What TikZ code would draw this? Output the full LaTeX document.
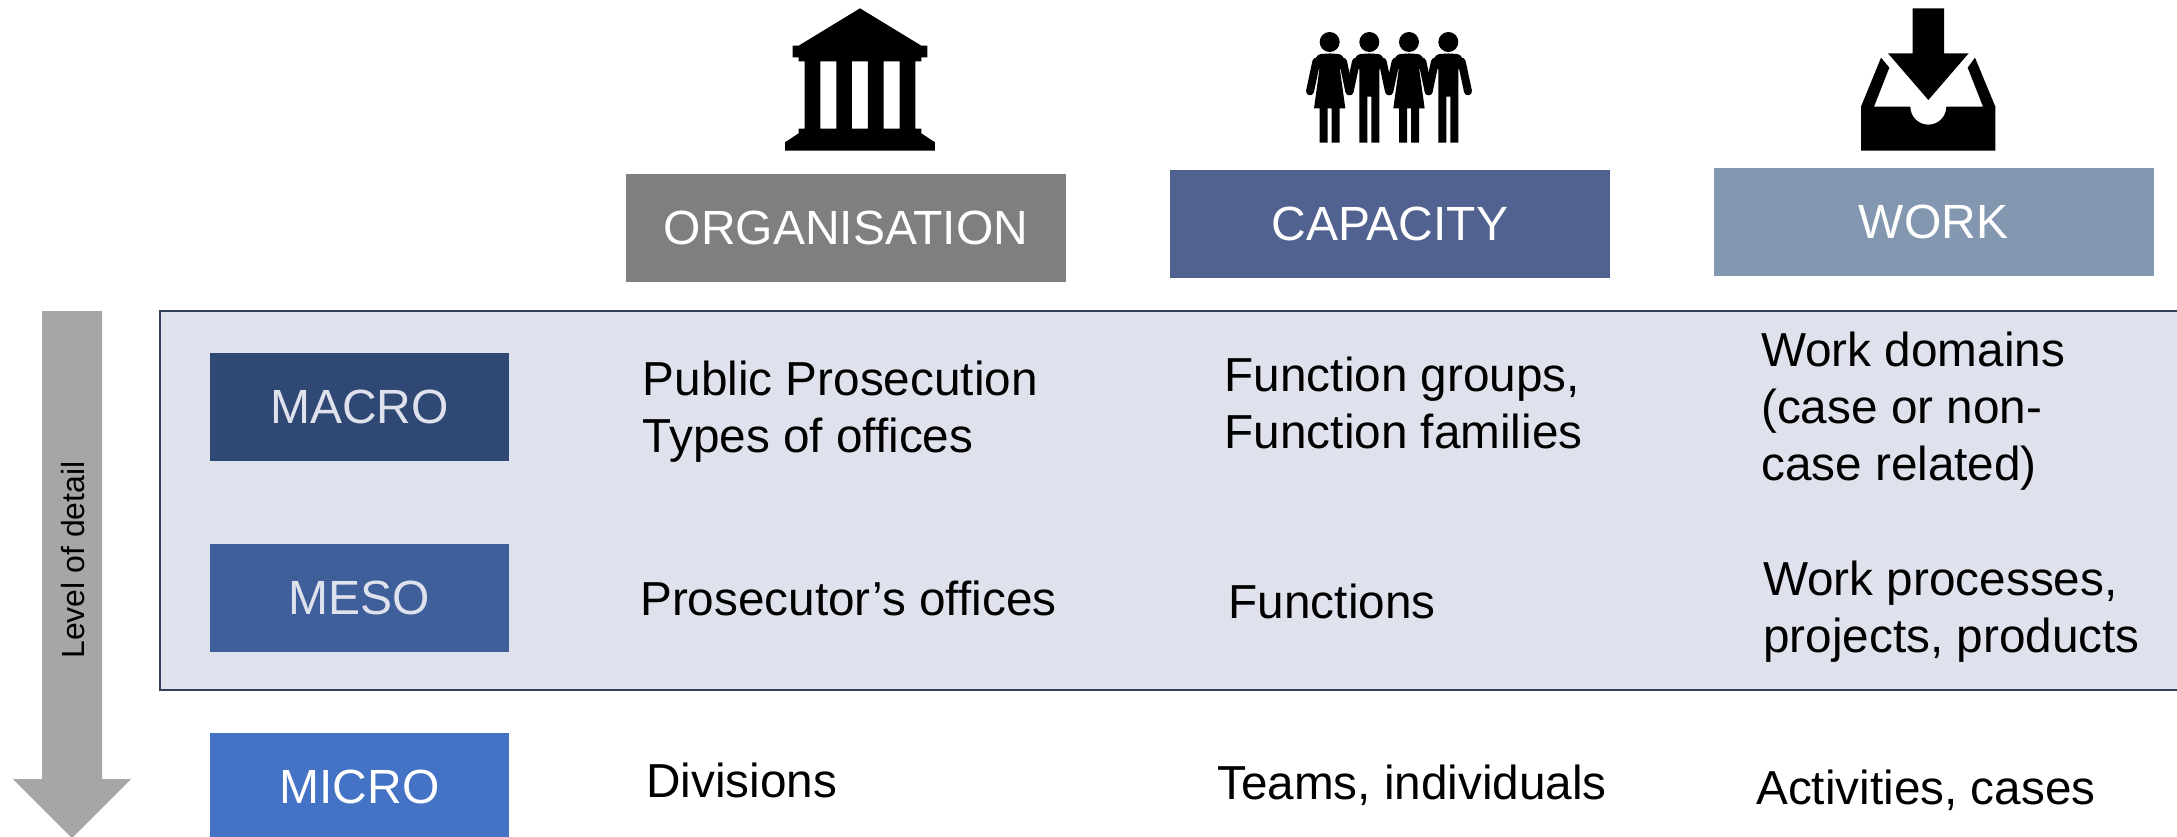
\documentclass[tikz,border=0pt]{standalone}
\usepackage{fontspec}
\setmainfont{Liberation Sans}
\definecolor{orgc}{HTML}{7F7F7F}
\definecolor{capc}{HTML}{526290}
\definecolor{workc}{HTML}{8497B0}
\definecolor{panelc}{HTML}{DFE2ED}
\definecolor{edgec}{HTML}{333F5C}
\definecolor{macroc}{HTML}{304874}
\definecolor{mesoc}{HTML}{3F5F9A}
\definecolor{microc}{HTML}{4472C4}
\definecolor{arrowc}{HTML}{A6A6A6}
\tikzset{
  headbox/.style={minimum width=440,minimum height=108,inner sep=0,text=white,font=\fontsize{48}{57}\selectfont},
  levelbox/.style={minimum width=299,minimum height=108,inner sep=0,font=\fontsize{48}{57}\selectfont},
  bodytext/.style={anchor=west,inner sep=0,align=left,font=\fontsize{47.7}{57}\selectfont}
}
\newcommand{\limbs}[1]{%
  \draw[line width=8pt,line cap=round] (#1-40,125) -- (#1-59,214);
  \draw[line width=8pt,line cap=round] (#1+40,125) -- (#1+59,214);
  \fill (#1,66) circle (30);
}
\newcommand{\shoulders}[1]{%
  \fill[rounded corners=3pt] (#1-52,135) -- (#1-36,103) -- (#1,100) -- (#1+36,103) -- (#1+52,135) -- (#1+29,150) -- (#1-29,150) -- cycle;
}
\newcommand{\womanfig}[1]{%
  \limbs{#1}
  \shoulders{#1}
  \fill (#1-29,135) -- (#1-47,265) -- (#1-30,265) -- (#1-30,368) -- (#1-6,368) -- (#1-6,265) -- (#1+6,265) -- (#1+6,368) -- (#1+30,368) -- (#1+30,265) -- (#1+47,265) -- (#1+29,135) -- cycle;
}
\newcommand{\manfig}[1]{%
  \limbs{#1}
  \shoulders{#1}
  \fill (#1-30,130) -- (#1-30,368) -- (#1-6,368) -- (#1-6,230) -- (#1+6,230) -- (#1+6,368) -- (#1+30,368) -- (#1+30,130) -- cycle;
}
\begin{document}
\begin{tikzpicture}[x=1pt,y=-1pt]
\fill[white] (0,0) rectangle (2177,837);
\useasboundingbox (0,0) rectangle (2177,837);

% panel
\fill[panelc] (160,311) rectangle (2177,690);
\draw[edgec,line width=2.5pt] (2177,311) -- (160,311) -- (160,690) -- (2177,690);

% arrow
\fill[arrowc] (42,311) -- (102,311) -- (102,779) -- (131,779) -- (72,838) -- (13,779) -- (42,779) -- cycle;
\node[rotate=90,inner sep=0,font=\fontsize{32}{36}\selectfont] (detail) at (73,560) {Level of detail};

% headers
\node[headbox,fill=orgc] (org) at (846,228) {ORGANISATION};
\node[headbox,fill=capc] (cap) at (1390,224) {CAPACITY};
\node[headbox,fill=workc] (work) at (1933.5,222) {WORK};

% levels
\node[levelbox,fill=macroc,text=panelc] (macro) at (359.5,407) {MACRO};
\node[levelbox,fill=mesoc,text=panelc] (meso) at (359.5,597.5) {MESO};
\node[levelbox,fill=microc,text=white] (micro) at (359.5,786.5) {MICRO};

% cell texts
\node[bodytext] (a1) at (642.5,411.5) {Public Prosecution\\Types of offices};
\node[bodytext] (b1) at (1224.5,403) {Function groups,\\Function families};
\node[bodytext] (c1) at (1761,411.5) {Work domains\\(case or non-\\case related)};
\node[bodytext] (a2) at (640,598.5) {Prosecutor’s offices};
\node[bodytext] (b2) at (1228.5,601.5) {Functions};
\node[bodytext] (c2) at (1763,612) {Work processes,\\projects, products};
\node[bodytext] (a3) at (646,780) {Divisions};
\node[bodytext] (b3) at (1217,785) {Teams, individuals};
\node[bodytext] (c3) at (1756,790) {Activities, cases};

% building icon
\begin{scope}[shift={(760,0)},x=0.3333pt,y=-0.3333pt]
\fill[even odd rule] (300,25) -- (484,137) -- (502,137) -- (502,172) -- (484,172) -- (484,184) -- (466,184) -- (466,386) -- (484,386) -- (484,400) -- (525,427) -- (525,452) -- (75,452) -- (75,427) -- (116,400) -- (116,386) -- (134,386) -- (134,184) -- (116,184) -- (116,172) -- (98,172) -- (98,137) -- (116,137) -- cycle
 (181,184) rectangle (229,386) (276,184) rectangle (324,386) (371,184) rectangle (419,386);
\end{scope}

% people icon
\begin{scope}[shift={(1290,20)},x=0.3333pt,y=-0.3333pt]
\womanfig{119}
\manfig{238}
\womanfig{357}
\manfig{475}
\end{scope}

% inbox icon
\begin{scope}[shift={(1840,0)},x=0.3333pt,y=-0.3333pt]
\fill (218,25) -- (312,25) -- (312,160) -- (386,160) -- (265,300) -- (144,160) -- (218,160) -- cycle;
\fill (63,320) -- (123,173) -- (148,203) -- (102,320) -- (211,320) .. controls (211,350) and (235,374) .. (265,374) .. controls (295,374) and (319,350) .. (319,320) -- (429,320) -- (383,203) -- (405,173) -- (466,320) -- (466,452) -- (63,452) -- cycle;
\end{scope}
\end{tikzpicture}
\end{document}
